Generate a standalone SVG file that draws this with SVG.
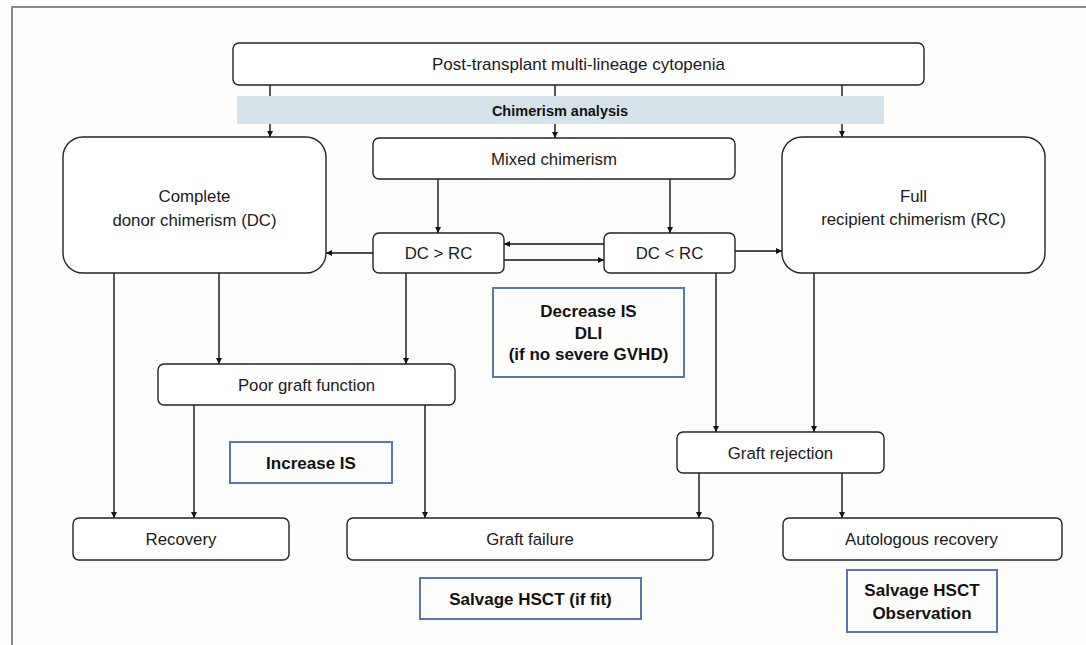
<svg xmlns="http://www.w3.org/2000/svg" width="1086" height="645" viewBox="0 0 1086 645">
<defs>
<style>
.box{fill:#fff;stroke:#222;stroke-width:1.4}
.note{fill:none;stroke:#5a75b3;stroke-width:2}
.t{font-family:"Liberation Sans",Arial,sans-serif;font-size:16.8px;fill:#1a1a1a;text-anchor:middle}
.b{font-family:"Liberation Sans",Arial,sans-serif;font-size:17px;font-weight:bold;fill:#111;text-anchor:middle}
.c{stroke:#111;stroke-width:1.4;fill:none;marker-end:url(#ah)}
</style>
<marker id="ah" viewBox="0 0 10 10" refX="10" refY="5" markerWidth="7" markerHeight="6" markerUnits="userSpaceOnUse" orient="auto">
<path d="M0,0 L10,5 L0,10 z" fill="#111"/>
</marker>
</defs>
<rect x="0" y="0" width="1086" height="645" fill="#fdfdfc"/>
<path d="M12,645 V7 H1086" fill="none" stroke="#8a8a8a" stroke-width="2"/>

<g id="connectors">
<line class="c" x1="270" y1="85" x2="270" y2="137"/>
<line class="c" x1="555" y1="85" x2="555" y2="138"/>
<line class="c" x1="842" y1="85" x2="842" y2="137"/>
<line class="c" x1="438" y1="179" x2="438" y2="233"/>
<line class="c" x1="670" y1="179" x2="670" y2="233"/>
<line class="c" x1="604" y1="244" x2="504" y2="244"/>
<line class="c" x1="504" y1="260" x2="604" y2="260"/>
<line class="c" x1="373" y1="253" x2="326" y2="253"/>
<line class="c" x1="735" y1="251" x2="782" y2="251"/>
<line class="c" x1="114" y1="273" x2="114" y2="518"/>
<line class="c" x1="219" y1="273" x2="219" y2="364"/>
<line class="c" x1="406" y1="273" x2="406" y2="364"/>
<line class="c" x1="194" y1="405" x2="194" y2="518"/>
<line class="c" x1="425" y1="405" x2="425" y2="518"/>
<line class="c" x1="716" y1="273" x2="716" y2="432"/>
<line class="c" x1="814" y1="273" x2="814" y2="432"/>
<line class="c" x1="699" y1="473" x2="699" y2="518"/>
<line class="c" x1="842" y1="473" x2="842" y2="518"/>
</g>

<g id="top">
<rect class="box" x="233" y="43" width="691" height="42" rx="6"/>
<text class="t" x="578.5" y="70" style="font-size:17px">Post-transplant multi-lineage cytopenia</text>
</g>
<g id="chimerism-analysis">
<rect x="237" y="96" width="647" height="28" fill="#d6e2ea"/>
<text class="b" x="560" y="115.5" style="font-size:14.5px">Chimerism analysis</text>
</g>
<g id="donor">
<rect class="box" x="63" y="137" width="263" height="136" rx="20"/>
<text class="t" x="194.5" y="202">Complete</text>
<text class="t" x="194.5" y="225.5">donor chimerism (DC)</text>
</g>
<g id="mixed">
<rect class="box" x="373" y="138" width="362" height="41" rx="6"/>
<text class="t" x="554" y="164.5">Mixed chimerism</text>
</g>
<g id="recipient">
<rect class="box" x="782" y="137" width="263" height="136" rx="20"/>
<text class="t" x="913.5" y="202">Full</text>
<text class="t" x="913.5" y="224.5">recipient chimerism (RC)</text>
</g>
<g id="dc-gt-rc">
<rect class="box" x="373" y="233" width="131" height="40" rx="6"/>
<text class="t" x="438.5" y="259">DC &gt; RC</text>
</g>
<g id="dc-lt-rc">
<rect class="box" x="604" y="233" width="131" height="40" rx="6"/>
<text class="t" x="669.5" y="259">DC &lt; RC</text>
</g>
<g id="decrease-is">
<rect class="note" x="493" y="288" width="191" height="89"/>
<text class="b" x="588.5" y="317">Decrease IS</text>
<text class="b" x="588.5" y="338.5">DLI</text>
<text class="b" x="588.5" y="360">(if no severe GVHD)</text>
</g>
<g id="poor-graft">
<rect class="box" x="158" y="364" width="297" height="41" rx="6"/>
<text class="t" x="306.5" y="390.5">Poor graft function</text>
</g>
<g id="increase-is">
<rect class="note" x="230" y="442" width="162" height="41"/>
<text class="b" x="311" y="468.5">Increase IS</text>
</g>
<g id="graft-rejection">
<rect class="box" x="677" y="432" width="207" height="41" rx="6"/>
<text class="t" x="780.5" y="458.5">Graft rejection</text>
</g>
<g id="recovery">
<rect class="box" x="73" y="518" width="216" height="42" rx="6"/>
<text class="t" x="181" y="545">Recovery</text>
</g>
<g id="graft-failure">
<rect class="box" x="347" y="518" width="366" height="42" rx="6"/>
<text class="t" x="530" y="545">Graft failure</text>
</g>
<g id="autologous">
<rect class="box" x="783" y="518" width="279" height="42" rx="6"/>
<text class="t" x="921.5" y="545">Autologous recovery</text>
</g>
<g id="salvage-fit">
<rect class="note" x="420" y="578" width="221" height="41"/>
<text class="b" x="530.5" y="604.5">Salvage HSCT (if fit)</text>
</g>
<g id="salvage-observation">
<rect class="note" x="847" y="570" width="150" height="62"/>
<text class="b" x="922" y="596">Salvage HSCT</text>
<text class="b" x="922" y="618.5">Observation</text>
</g>
</svg>
